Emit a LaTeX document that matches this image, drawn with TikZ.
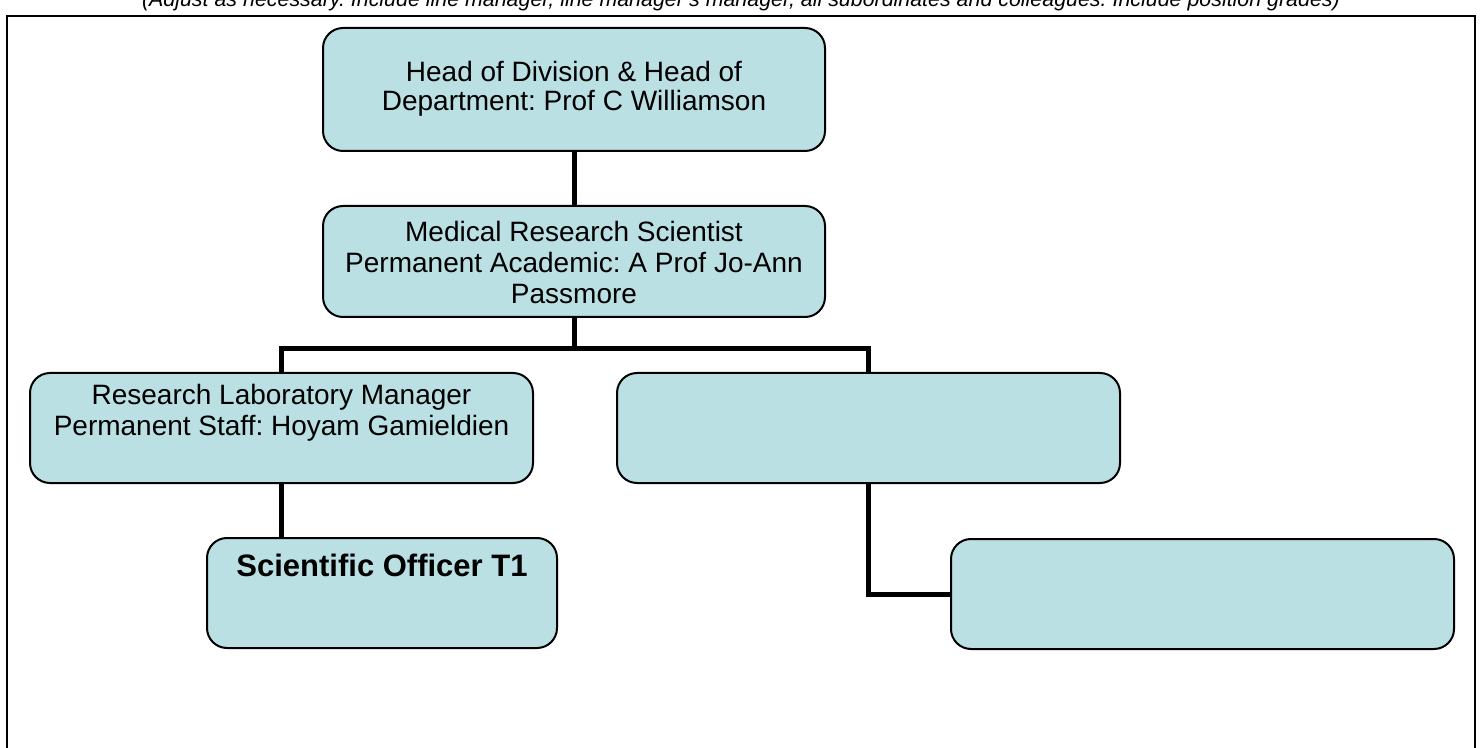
\documentclass[tikz,border=0pt]{standalone}
\usepackage{fontspec}
\setmainfont{Liberation Sans}
\usepackage{tikz}
\usetikzlibrary{positioning,calc}
\definecolor{postfill}{RGB}{186,224,227}
\newcommand{\postbox}[4]{\parbox[t][#1][t]{#2}{\centering\vspace*{#3}#4\par}}
\frenchspacing

\begin{document}
\begin{tikzpicture}[
			x=0.5pt, y=-0.5pt,
			post/.style={draw=black, fill=postfill, line width=1pt, rounded corners=10pt,
				inner sep=0, outer sep=0, anchor=north west, font=\fontsize{14}{15.5}\selectfont},
			vacant/.style={post, minimum width=251.5pt, minimum height=55pt},
			link/.style={line width=2.5pt},
			frame/.style={line width=1pt},
			note/.style={inner sep=0, anchor=base, font=\fontsize{10.7}{12}\selectfont\itshape}]

			\useasboundingbox (0,0) rectangle (1483,748);
			\clip (0,0) rectangle (1483,748);

			\node[note] (note) at (741,7) {(Adjust as necessary. Include line manager, line manager's manager, all subordinates and colleagues. Include position grades)};
			\draw[frame] (7,16) rectangle (1475,770);

			\node[post] (head) at (323,28) {\postbox{61.5pt}{251pt}{16.5pt}{\baselineskip=14.5pt Head of Division \& Head of\\ Department: Prof C Williamson}};
			\node[post] (med) at (323,206) {\postbox{55.5pt}{251pt}{7.5pt}{Medical Research Scientist\\ Permanent Academic: A Prof Jo-Ann\\ Passmore}};

			\node[post] (lab) at (30,373) {\postbox{55pt}{251.5pt}{5.5pt}{Research Laboratory Manager\\ Permanent Staff: Hoyam Gamieldien}};
			\node[vacant] (blankA) at (617,373) {};

			\node[post] (officer) at (207,538) {\postbox{55pt}{175pt}{8pt}{\fontsize{15.5}{18}\selectfont\bfseries Scientific Officer T1}};
			\node[vacant] (blankB) at (951,539) {};

			\coordinate (bus) at (574,349);

			\draw[link] (head.south) -- (med.north);
			\draw[link] (med.south) -- (bus);
			\draw[link] (lab.north) |- (bus) -| (blankA.north);
			\draw[link] (lab.south) -- (lab.south |- officer.north);
			\draw[link] (blankA.south) |- (blankB.west);
		\end{tikzpicture}
\end{document}
